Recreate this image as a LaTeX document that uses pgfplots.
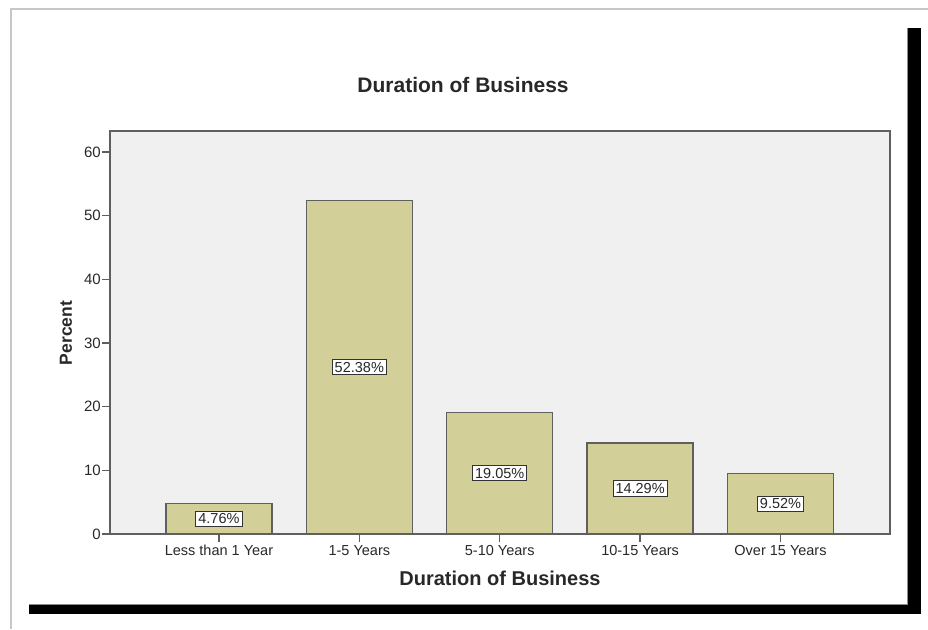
\documentclass[border=0pt]{standalone}
\usepackage{pgfplots}
\pgfplotsset{compat=1.18}
\usepackage{fontspec}
\setmainfont{Liberation Sans}
\definecolor{barfill}{RGB}{211,207,152}
\definecolor{plotbg}{RGB}{240,240,240}
\definecolor{axgray}{RGB}{95,95,95}
\definecolor{txt}{RGB}{40,40,40}
\begin{document}
\begin{tikzpicture}[x=1pt,y=1pt]
\useasboundingbox (0,0) rectangle (928,629);
% outer frame
\draw[line width=2pt, color=black!22] (11,0) -- (11,620) -- (928,620);
\draw[line width=1pt, color=black!45] (29,24.5) -- (907.5,24.5) -- (907.5,601);
\fill[black] (908,15) rectangle (921,601);
\fill[black] (29,15) rectangle (921,24);
\begin{axis}[
  at={(110pt,95pt)}, anchor=south west,
  scale only axis, width=780pt, height=403pt,
  xmin=-0.776, xmax=4.78, ymin=0, ymax=63.3,
  axis background/.style={fill=plotbg},
  axis line style={color=axgray, line width=1.8pt},
  ybar, bar width=106pt,
  xtick={0,1,2,3,4},
  xticklabels={Less than 1 Year,1-5 Years,5-10 Years,10-15 Years,Over 15 Years},
  ytick={0,10,20,30,40,50,60},
  tick pos=left, tick align=outside,
  major tick length=8pt,
  tick style={color=axgray, line width=1.5pt},
  /pgf/number format/assume math mode=true,
  ticklabel style={font=\fontsize{14.5}{16}\selectfont, text=txt},
  yticklabel style={inner sep=1pt, font=\fontsize{15}{16}\selectfont},
  xticklabel style={inner sep=3pt},
  title={\textbf{Duration of Business}},
  title style={at={(axis description cs:0.4526,1.099)}, anchor=center, font=\fontsize{21}{24}\selectfont, text=txt},
  xlabel={\textbf{Duration of Business}},
  xlabel style={at={(axis description cs:0.5,-0.109)}, anchor=center, font=\fontsize{20}{24}\selectfont, text=txt},
  ylabel={\textbf{Percent}},
  ylabel style={at={(axis description cs:-0.0564,0.4988)}, anchor=center, font=\fontsize{17.5}{20}\selectfont, text=txt},
]
\addplot[fill=barfill, draw=axgray, line width=1.4pt, bar shift=0pt]
  coordinates {(0,4.76) (1,52.38) (2,19.05) (3,14.29) (4,9.52)};
\addplot[draw=none, fill=none, bar shift=0pt,
  nodes near coords, point meta=explicit symbolic,
  every node near coord/.append style={anchor=center, fill=white, draw=black!80, line width=1pt, inner sep=2.5pt, font=\fontsize{14.5}{16}\selectfont, text=txt}]
  coordinates {(0,2.38)[4.76\%] (1,26.19)[52.38\%] (2,9.525)[19.05\%] (3,7.145)[14.29\%] (4,4.76)[9.52\%]};
\end{axis}
\end{tikzpicture}
\end{document}
